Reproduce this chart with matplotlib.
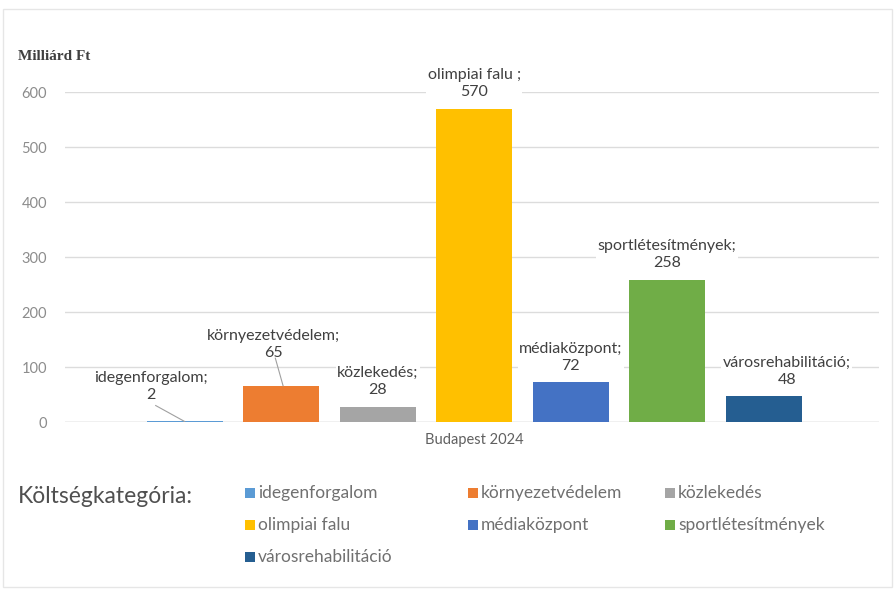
import matplotlib.pyplot as plt
from matplotlib.patches import Rectangle

# adatok
kategoriak = ['idegenforgalom', 'környezetvédelem', 'közlekedés', 'olimpiai falu',
              'médiaközpont', 'sportlétesítmények', 'városrehabilitáció']
ertekek = [2, 65, 28, 570, 72, 258, 48]
cimkek = ['idegenforgalom;\n2', 'környezetvédelem;\n65', 'közlekedés;\n28', 'olimpiai falu ;\n570',
          'médiaközpont;\n72', 'sportlétesítmények;\n258', 'városrehabilitáció;\n48']
szinek = ['#5B9BD5', '#ED7D31', '#A5A5A5', '#FFC000', '#4472C4', '#70AD47', '#255E91']
y_ticks = [0, 100, 200, 300, 400, 500, 600]

plt.rcParams['font.family'] = ['Lato', 'DejaVu Sans']

fig = plt.figure(figsize=(8.95, 5.9), dpi=100)
ax = fig.add_axes([0.0726, 0.2847, 0.91, 0.5593])

x = list(range(len(ertekek)))
ax.bar(x, ertekek, width=0.79, color=szinek, zorder=2)
ax.set_xlim(-1.24, 7.2)
ax.set_ylim(0, 600)
ax.set_yticks(y_ticks)
ax.tick_params(axis='y', length=0, labelsize=10.5, labelcolor='#8c8c8c', pad=13)
ax.set_xticks([])
ax.grid(axis='y', color='#dcdcdc', linewidth=1, zorder=0)
for s in ax.spines.values():
    s.set_visible(False)
ax.axhline(0, color='#d0d0d0', linewidth=1, zorder=1)

# adatcímkék (eltolás: x, y)
eltol = {0: (-0.35, 34), 1: (-0.08, 48), 6: (0.24, 16)}
for i, (v, c) in enumerate(zip(ertekek, cimkek)):
    dx, dy = eltol.get(i, (0.0, 18))
    ax.text(i + dx, v + dy, c, ha='center', va='bottom', fontsize=11.5, color='#404040',
            linespacing=1.25, zorder=3,
            bbox=dict(facecolor='white', edgecolor='none', pad=1))
# vezető vonalak
ax.plot([-0.3, 0.0], [30, 1], color='#a0a0a0', linewidth=0.8, zorder=3)
ax.plot([0.94, 1.02], [116, 66], color='#a0a0a0', linewidth=0.8, zorder=3)

ax.text(3, -33, 'Budapest 2024', ha='center', va='center', fontsize=10.5, color='#606060')

fig.text(0.02, 0.905, 'Milliárd Ft', fontsize=11, fontweight='bold', color='#404040',
         family='Liberation Serif', va='center')

# jelmagyarázat
fig.text(0.02, 0.158, 'Költségkategória:', fontsize=16.5, color='#505050', va='center')
oszlop_x = [245, 468, 665]
sor_y = [493, 525, 557]
for i, (k, sz) in enumerate(zip(kategoriak, szinek)):
    px = oszlop_x[i % 3]
    py = sor_y[i // 3]
    fig.patches.append(Rectangle((px / 895, 1 - (py + 5) / 590), 10 / 895, 10 / 590,
                                 transform=fig.transFigure, facecolor=sz, edgecolor='none'))
    fig.text((px + 13) / 895, 1 - py / 590, k, fontsize=12.5, color='#707070', va='center')

# keret
fig.patches.append(Rectangle((0.003, 0.005), 0.994, 0.98, transform=fig.transFigure,
                             facecolor='none', edgecolor='#e6e6e6', linewidth=1))

fig.savefig('out.png', dpi=100)
